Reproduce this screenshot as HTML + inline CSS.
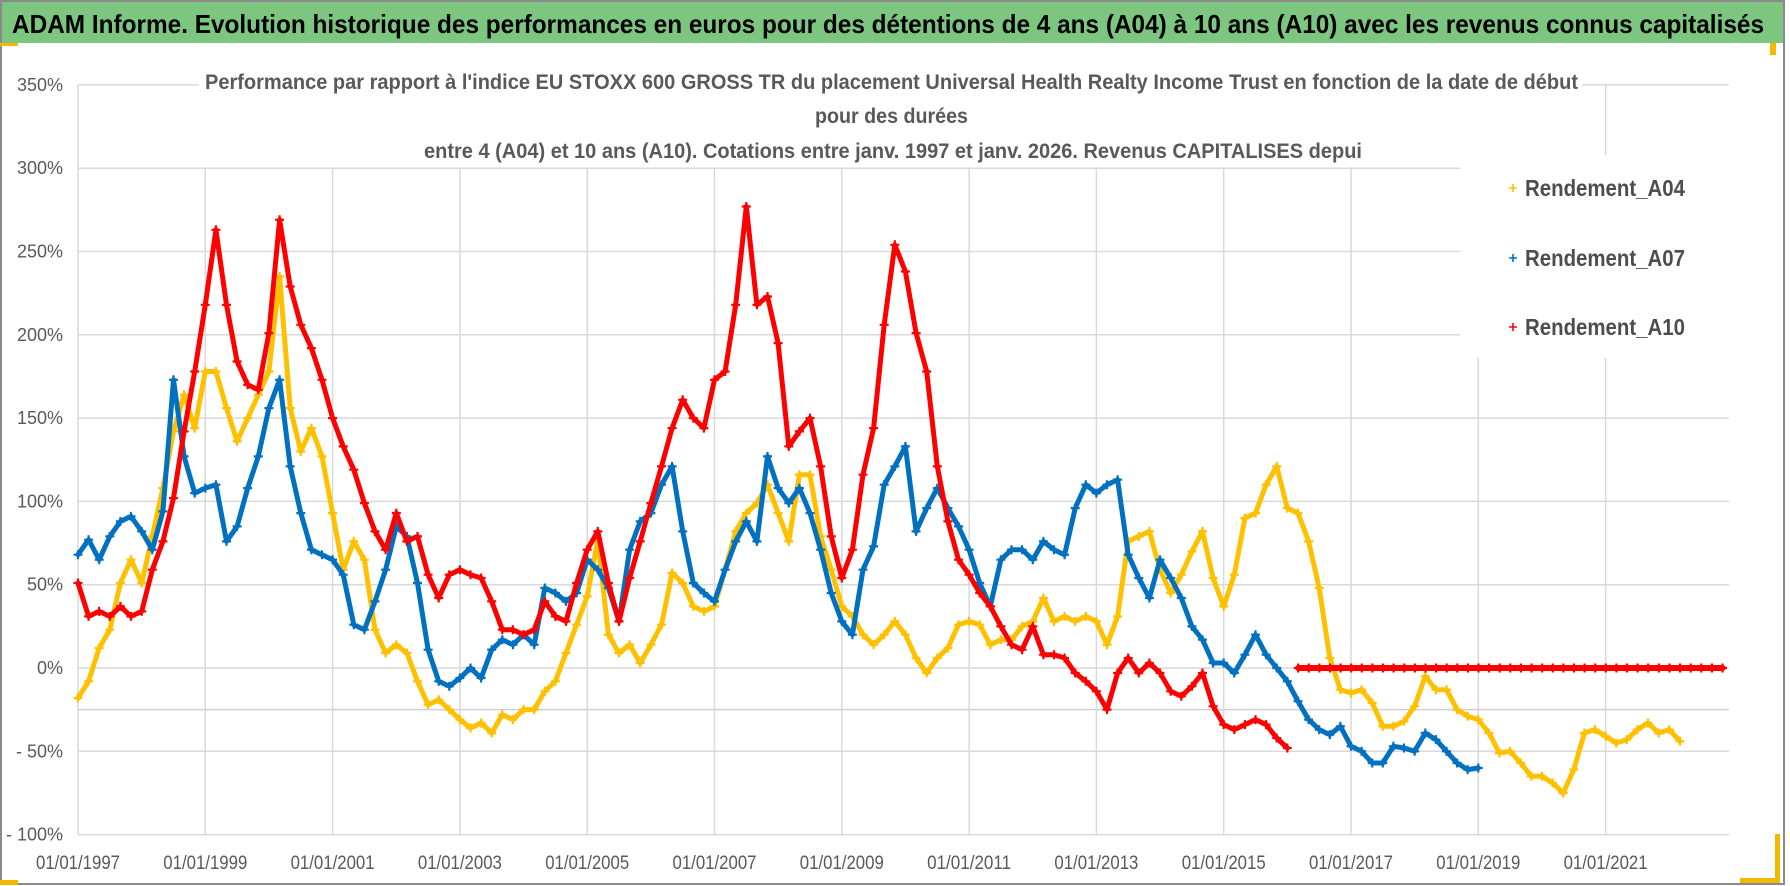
<!DOCTYPE html>
<html><head><meta charset="utf-8"><style>
html,body{margin:0;padding:0;background:#fff;}
svg{display:block;font-family:"Liberation Sans Narrow","Liberation Sans",sans-serif;}
</style></head><body>
<svg id="chart" width="1790" height="886" viewBox="0 0 1790 886" xmlns="http://www.w3.org/2000/svg">
<rect x="0" y="0" width="1790" height="886" fill="#fff"/>
<rect x="1" y="1" width="1783" height="883" fill="none" stroke="#8a8a8a" stroke-width="2"/>
<rect x="2" y="2" width="1781" height="41" fill="#7dc67f"/>
<text x="12" y="33" font-size="26" font-weight="bold" fill="#000" textLength="1752" lengthAdjust="spacingAndGlyphs">ADAM Informe. Evolution historique des performances en euros pour des détentions de 4 ans (A04) à 10 ans (A10) avec les revenus connus capitalisés</text>
<rect x="0" y="43" width="18" height="3" fill="#f5b800"/>
<rect x="1770" y="43" width="6" height="12" fill="#f5b800"/>
<rect x="1775" y="834" width="5" height="48" fill="#f5b800"/>
<rect x="1740" y="878" width="40" height="5" fill="#f5b800"/>
<rect x="0" y="880" width="18" height="5" fill="#f5b800"/>
<g id="grid"></g>
<g id="series"></g>
<rect x="199" y="70" width="1383" height="97" fill="#fff"/>
<text x="205" y="89" font-size="21" font-weight="bold" fill="#595959" textLength="1373" lengthAdjust="spacingAndGlyphs">Performance par rapport à l'indice EU STOXX 600 GROSS TR  du placement Universal Health Realty Income Trust en fonction de la date de début</text>
<text x="815" y="123" font-size="21" font-weight="bold" fill="#595959" textLength="153" lengthAdjust="spacingAndGlyphs">pour des durées</text>
<text x="424" y="158" font-size="21" font-weight="bold" fill="#595959" textLength="938" lengthAdjust="spacingAndGlyphs">entre 4 (A04) et 10 ans (A10). Cotations entre janv. 1997 et janv. 2026. Revenus CAPITALISES depui</text>
<g>
<rect x="1460" y="155" width="269" height="203" fill="#fff"/>
<g>
<path d="M1509 188h8M1513 184v8" stroke="#ffc000" stroke-width="1.6"/>
<text x="1525" y="196" font-size="23" font-weight="bold" fill="#4d4d4d" textLength="160" lengthAdjust="spacingAndGlyphs">Rendement_A04</text></g>
<g>
<path d="M1509 258h8M1513 254v8" stroke="#0070c0" stroke-width="1.6"/>
<text x="1525" y="266" font-size="23" font-weight="bold" fill="#4d4d4d" textLength="160" lengthAdjust="spacingAndGlyphs">Rendement_A07</text></g>
<g>
<path d="M1509 327h8M1513 323v8" stroke="#ff0000" stroke-width="1.6"/>
<text x="1525" y="335" font-size="23" font-weight="bold" fill="#4d4d4d" textLength="160" lengthAdjust="spacingAndGlyphs">Rendement_A10</text></g>
</g>
<g id="axes"></g>
</svg>
<script>
const yTicks = [350,300,250,200,150,100,50,0,-50,-100];
const yTickLabels = ["350%","300%","250%","200%","150%","100%","50%","0%","- 50%","- 100%"];
const xTicks = [1997,1999,2001,2003,2005,2007,2009,2011,2013,2015,2017,2019,2021];
const xTickLabels = ["01/01/1997","01/01/1999","01/01/2001","01/01/2003","01/01/2005","01/01/2007","01/01/2009","01/01/2011","01/01/2013","01/01/2015","01/01/2017","01/01/2019","01/01/2021"];
const seriesNames = ["Rendement_A04","Rendement_A07","Rendement_A10"];
const a04Start = 1997, a07Start = 1997, a10Start = 1997, a10FlatStart = 2016.17;
const stepYears = 1/6;
const a04 = [-18,-8,12,23,51,65, 51,79,108,142,164,144, 178,178,156,136,150,164, 178,235,156,130,144,127,
 93,59,76,65,23,9, 14,9,-8,-22,-19,-25, -31,-36,-33,-39,-28,-31, -25,-25,-14,-8,9,26,
 43,77,20,9,14,3, 14,26,57,51,37,34, 37,59,82,93,99,110, 93,76,116,116,79,59,
 37,31,20,14,20,28, 20,6,-3,6,12,26, 28,26,14,17,17,25, 28,42,28,31,28,31,
 28,14,31,76,79,82, 59,45,56,70,82,54, 37,56,90,93,110,121, 96,93,76,48,6,-13,
 -15,-13,-21,-35,-35,-32, -23,-5,-13,-13,-25,-29, -31,-39,-51,-50,-57,-65, -65,-69,-75,-61,-39,-37,
 -41,-45,-43,-37,-33,-39, -37,-44];
const a07 = [68,77,65,79,88,91, 82,71,94,173,127,105, 108,110,76,85,108,127, 156,173,121,93,71,68,
 65,56,26,23,40,59, 85,79,51,11,-8,-11, -6,0,-6,11,17,14, 20,14,48,45,40,45,
 65,59,48,28,71,88, 93,110,121,82,51,45, 40,59,76,88,76,127, 108,99,108,93,71,45,
 28,20,59,73,110,121, 133,82,96,108,96,85, 71,51,37,65,71,71, 65,76,71,68,96,110,
 105,110,113,68,54,42, 65,54,42,25,17,3, 3,-3,8,20,8,0, -8,-20,-31,-37,-40,-35,
 -47,-50,-57,-57,-47,-48, -50,-39,-43,-50,-57,-61, -60];
const a10 = [51,31,34,31,37,31, 34,59,76,102,142,178, 218,263,218,184,170,167, 201,269,229,206,192,173,
 150,133,119,99,82,71, 93,76,79,56,42,56, 59,56,54,40,23,23, 20,23,40,31,28,51,
 71,82,51,28,54,76, 99,121,144,161,150,144, 173,178,218,277,218,223, 195,133,142,150,121,79,
 54,71,116,144,206,254, 238,201,178,121,88,65, 56,45,37,25,14,11, 25,8,8,6,-3,-8,
 -14,-25,-3,6,-3,3, -3,-14,-17,-11,-3,-23, -34,-37,-34,-31,-34,-42, -48];
const a10Flat = [0,0,0,0,0,0,0,0,0,0,0,0,0,0,0,0,0,0,0,0,0,0,0,0,0,0,0,0,0,0,0,0,0,0,0,0,0,0,0,0,0];

const NS = "http://www.w3.org/2000/svg";
const X0 = 78, PXY = 63.65, Y0 = 668, PXP = 1.666, XR = 1729;
function xs(t){ return X0 + (t - 1997) * PXY; }
function ys(v){ return Y0 - v * PXP; }
function mk(tag, attrs, parent){ const e = document.createElementNS(NS, tag); for (const k in attrs) e.setAttribute(k, attrs[k]); parent.appendChild(e); return e; }

const grid = document.getElementById('grid');
yTicks.forEach(v => {
  const l = mk('line', {x1: X0, x2: XR, y1: ys(v), y2: ys(v), stroke: '#d9d9d9', 'stroke-width': 1.5}, grid);
  
  
});
const extra = mk('line', {x1: X0, x2: XR, y1: ys(-25), y2: ys(-25), stroke: '#d0d0d0', 'stroke-width': 1.5}, grid);


xTicks.forEach(t => {
  const l = mk('line', {x1: xs(t), x2: xs(t), y1: ys(350), y2: ys(-100), stroke: '#d9d9d9', 'stroke-width': 1.5}, grid);
  
  
});

const axes = document.getElementById('axes');
yTicks.forEach((v, i) => {
  const t = mk('text', {x: 63, y: ys(v) + 6, 'text-anchor': 'end', 'font-size': 18, fill: '#595959'}, axes);
  t.textContent = yTickLabels[i];
  
  
});
xTicks.forEach((tv, i) => {
  const t = mk('text', {x: xs(tv), y: 869, 'text-anchor': 'middle', 'font-size': 19, fill: '#595959', textLength: 84, lengthAdjust: 'spacingAndGlyphs'}, axes);
  t.textContent = xTickLabels[i];
  
  
});

const sg = document.getElementById('series');
function drawSeries(vals, start, color, name, lineW){
  const g = mk('g', {}, sg);
  
  
  const pts = vals.map((v, i) => xs(start + i * stepYears).toFixed(1) + ',' + ys(v).toFixed(1)).join(' ');
  const pl = mk('polyline', {points: pts, fill: 'none', stroke: color, 'stroke-width': lineW, 'stroke-linejoin': 'round', 'stroke-linecap': 'round'}, g);
  
  
  let d = '';
  vals.forEach((v, i) => {
    const x = xs(start + i * stepYears), y = ys(v);
    d += 'M' + (x - 4.5).toFixed(1) + ' ' + y.toFixed(1) + 'h9M' + x.toFixed(1) + ' ' + (y - 4.5).toFixed(1) + 'v9';
  });
  const m = mk('path', {d: d, stroke: color, 'stroke-width': 2.2, fill: 'none'}, g);
  
  
}
drawSeries(a04, a04Start, '#ffc000', 'series-a04', 5);
drawSeries(a07, a07Start, '#0070c0', 'series-a07', 5);
drawSeries(a10, a10Start, '#ff0000', 'series-a10', 5);
drawSeries(a10Flat, a10FlatStart, '#ff0000', 'series-a10-flat', 6);
</script>
</body></html>
